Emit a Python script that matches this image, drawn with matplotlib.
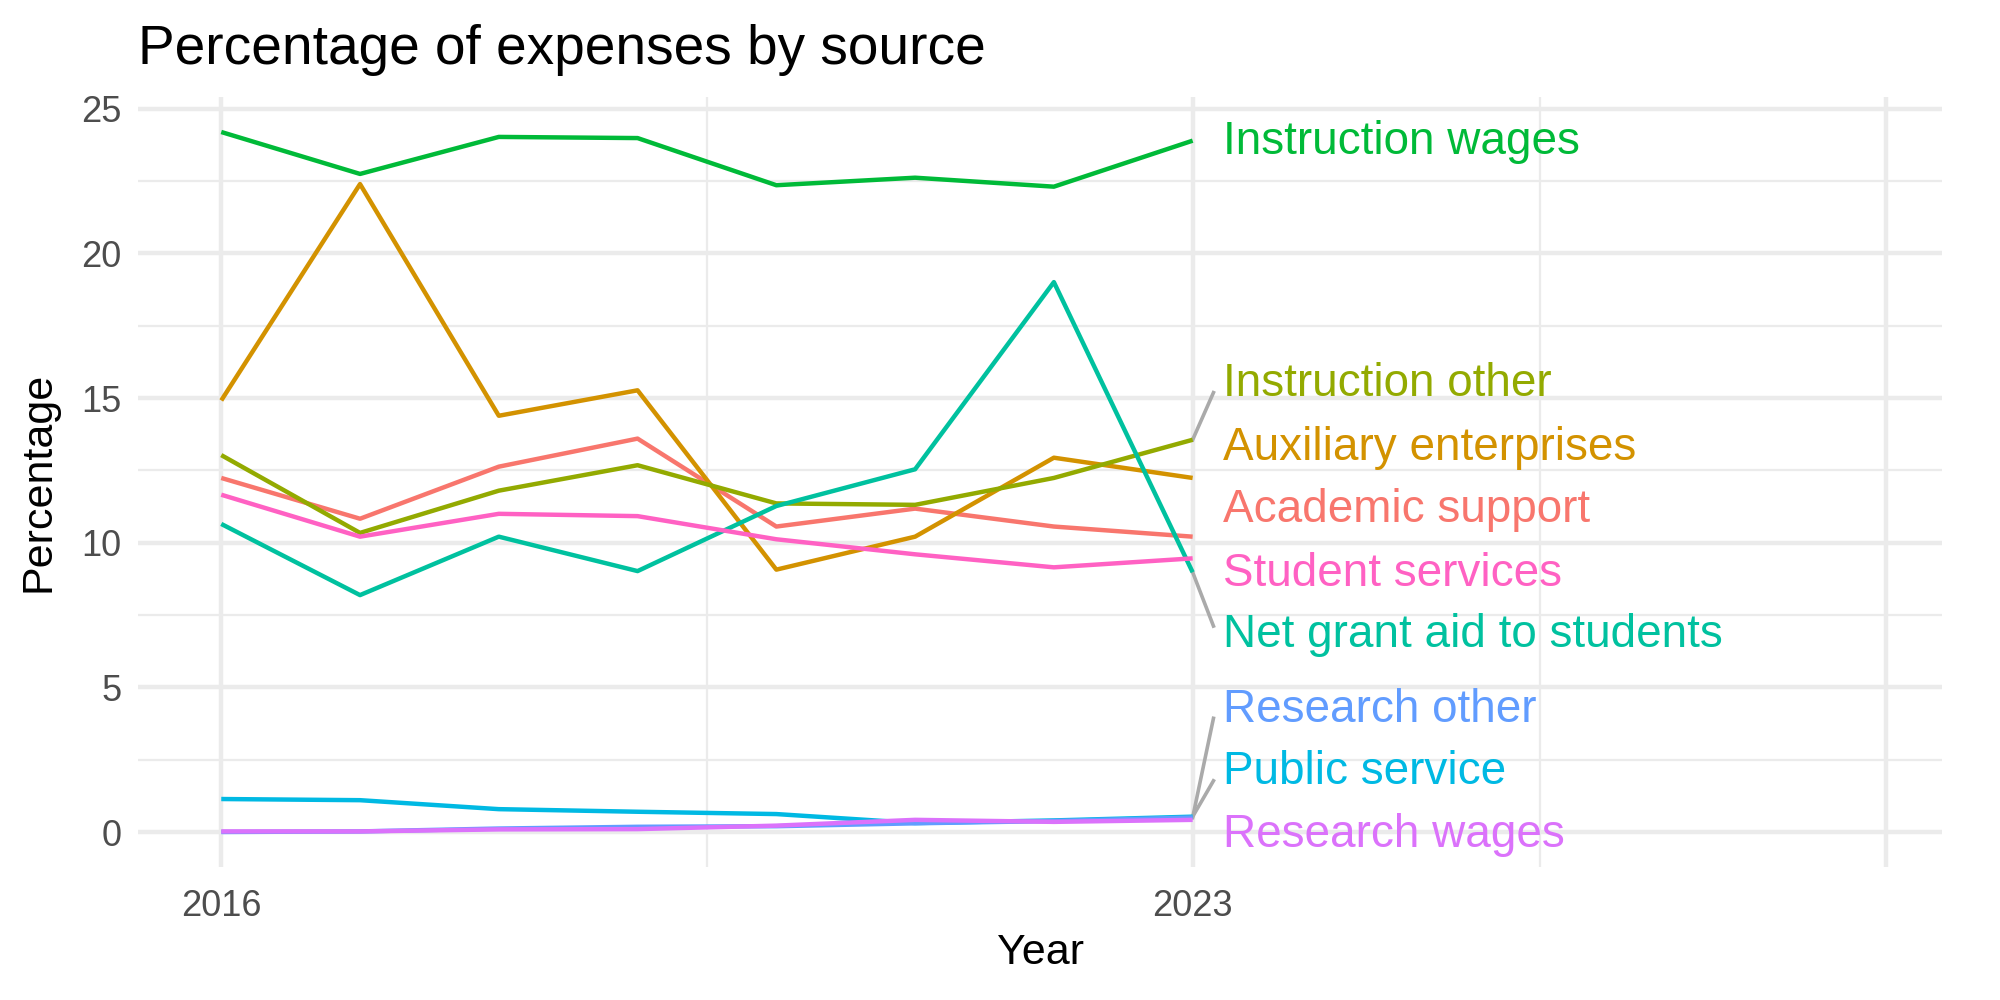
import matplotlib.pyplot as plt

plt.rcParams['font.family'] = ['Liberation Sans', 'DejaVu Sans']

years = [2016, 2017, 2018, 2019, 2020, 2021, 2022, 2023]

academic_support = [12.24, 10.83, 12.63, 13.6, 10.56, 11.18, 10.56, 10.21]
auxiliary = [14.92, 22.4, 14.39, 15.27, 9.07, 10.21, 12.94, 12.24]
instruction_other = [13.03, 10.34, 11.8, 12.68, 11.36, 11.31, 12.24, 13.56]
instruction_wages = [24.2, 22.75, 24.03, 23.99, 22.36, 22.62, 22.31, 23.9]
net_grant = [10.65, 8.19, 10.21, 9.02, 11.27, 12.54, 19.01, 8.98]
public_service = [1.14, 1.1, 0.79, 0.7, 0.62, 0.31, 0.4, 0.53]
research_other = [0.0, 0.02, 0.12, 0.18, 0.2, 0.3, 0.38, 0.5]
research_wages = [0.02, 0.02, 0.09, 0.1, 0.22, 0.42, 0.35, 0.42]
student_services = [11.66, 10.21, 11.0, 10.92, 10.12, 9.6, 9.15, 9.46]

names = ['Academic support', 'Auxiliary enterprises', 'Instruction other',
         'Instruction wages', 'Net grant aid to students', 'Public service',
         'Research other', 'Research wages', 'Student services']
series = [academic_support, auxiliary, instruction_other, instruction_wages,
          net_grant, public_service, research_other, research_wages, student_services]
colors = ['#F8766D', '#D39200', '#93AA00', '#00BA38', '#00C19F', '#00B9E3',
          '#619CFF', '#DB72FB', '#FF61C3']

# repelled label positions (y) and whether a leader segment is drawn
label_y = [11.14, 13.29, 15.49, 23.86, 6.82, 2.07, 4.23, -0.09, 8.93]
has_segment = [False, False, True, False, True, True, True, False, False]

fig = plt.figure(figsize=(10, 5), dpi=200)
ax = fig.add_axes([0.069, 0.133, 0.902, 0.770])

for v in [2.5, 7.5, 12.5, 17.5, 22.5]:
    ax.axhline(v, color='#EBEBEB', lw=0.8, zorder=0)
for v in [0, 5, 10, 15, 20, 25]:
    ax.axhline(v, color='#EBEBEB', lw=1.6, zorder=0)
for v in [2019.5, 2025.5]:
    ax.axvline(v, color='#EBEBEB', lw=0.8, zorder=0)
for v in [2016, 2023, 2028]:
    ax.axvline(v, color='#EBEBEB', lw=1.6, zorder=0)

for name, vals, c, ly, seg in zip(names, series, colors, label_y, has_segment):
    ax.plot(years, vals, color=c, lw=1.6, solid_capstyle='butt', zorder=2)
    if seg:
        end_y = ly - 0.3 if ly > vals[-1] else ly + 0.3
        ax.plot([years[-1], years[-1] + 0.15], [vals[-1], end_y],
                color='#AAAAAA', lw=1.3, zorder=1)
    ax.text(years[-1] + 0.22, ly, name, color=c, fontsize=16.5,
            ha='left', va='center', zorder=3)

ax.set_xlim(2015.4, 2028.4)
ax.set_ylim(-1.21, 25.41)
ax.set_xticks([2016, 2023, 2028])
ax.set_xticklabels(['2016', '2023', ''])
ax.set_yticks([0, 5, 10, 15, 20, 25])
ax.tick_params(length=0, labelsize=13, labelcolor='#4D4D4D')
ax.tick_params(axis='x', pad=8)
ax.tick_params(axis='y', pad=6)
for s in ax.spines.values():
    s.set_visible(False)

ax.set_xlabel('Year', fontsize=15.5, labelpad=3)
ax.set_ylabel('Percentage', fontsize=15.5, labelpad=8)
ax.set_title('Percentage of expenses by source', loc='left', fontsize=19.8, pad=12)

fig.savefig('out.png', dpi=200, facecolor='white')
